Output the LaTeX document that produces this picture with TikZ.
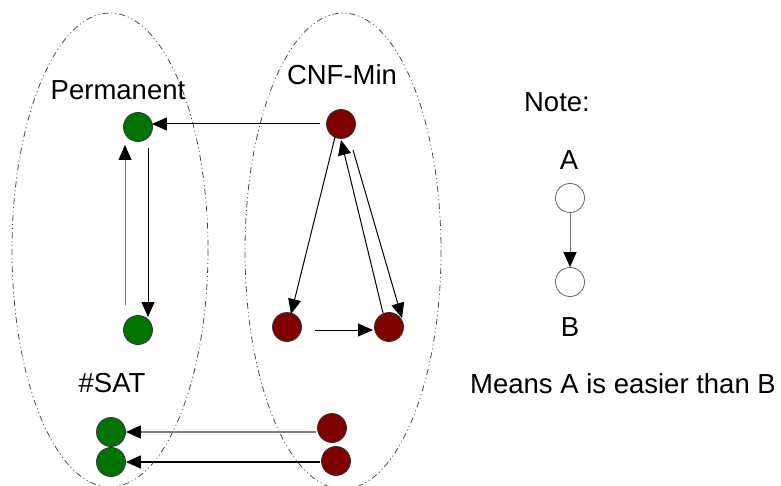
\documentclass[tikz,border=0pt]{standalone}
\usepackage{fontspec}
\setmainfont{Liberation Sans}
\usetikzlibrary{arrows.meta}
\begin{document}
\begin{tikzpicture}[x=1pt,y=-1pt,
  every node/.style={font=\fontsize{27.5}{31}\selectfont},
  grn/.style={circle,draw=black!80,line width=0.8pt,fill=green!45!black,minimum size=29pt,inner sep=0pt},
  rd/.style={circle,draw=black!80,line width=0.8pt,fill=red!50!black,minimum size=29pt,inner sep=0pt},
  wht/.style={circle,draw=black!60,line width=0.8pt,fill=white,minimum size=29pt,inner sep=0pt},
  lbl/.style={inner sep=0pt},
  arr/.style={-{Triangle[length=15pt,width=13pt,color=black]},line width=1pt,black},
  group/.style={draw=black!70,line width=0.8pt,dash pattern=on 6pt off 3pt on 1pt off 3pt on 1pt off 3pt}]
\useasboundingbox (0,0) rectangle (781,486);

% the two problem classes
\draw[group] (110,250) ellipse [x radius=98, y radius=237];
\draw[group] (343,251) ellipse [x radius=98, y radius=238];

% labels
\node[lbl] (tperm) at (118,90) {Permanent};
\node[lbl] (tcnf)  at (342,75) {CNF-Min};
\node[lbl] (tsat)  at (112,383) {\#SAT};

% green nodes
\node[grn] (gt)  at (138,127) {};
\node[grn] (gm)  at (138,330) {};
\node[grn] (gb1) at (111,432) {};
\node[grn] (gb2) at (111,462) {};

% red nodes
\node[rd] (rt)  at (341,124) {};
\node[rd] (rl)  at (287,327) {};
\node[rd] (rr)  at (389,327) {};
\node[rd] (rb1) at (332,428) {};
\node[rd] (rb2) at (336,461) {};

% reductions
\draw[arr] ([xshift=-6pt]rt.west) -- ([xshift=-1pt]rt.west -| gt.east);
\draw[arr,draw=black!55] ([shift={(-13,-25)}]gm.center) -- ([shift={(-13,18)}]gt.center);
\draw[arr] ([shift={(10,21)}]gt.center) -- ([shift={(10,-13)}]gm.center);
\draw[arr] ([shift={(-6,13)}]rt.center) -- ([shift={(4,-13)}]rl.center);
\draw[arr] ([shift={(-6,-14)}]rr.center) -- ([shift={(0,16)}]rt.center);
\draw[arr] ([shift={(12,26)}]rt.center) -- ([shift={(13,-9)}]rr.center);
\draw[arr] ([shift={(28,3)}]rl.center) -- ([shift={(-16,3)}]rr.center);
\draw[arr,draw=black!50,line width=1.8pt] ([xshift=-1pt]rb1.west |- gb1.center) -- ([xshift=0pt]gb1.east);
\draw[arr,line width=1.3pt] ([xshift=-1pt]rb2.west |- gb2.center) -- ([xshift=0pt]gb2.east);

% legend
\node[lbl] (note) at (557,102) {Note:};
\node[lbl] (ta) at (569,160) {A};
\node[wht] (na) at (570,198) {};
\node[wht] (nb) at (570,282) {};
\node[lbl] (tb) at (570,327) {B};
\draw[arr,draw=black!55] (na.south) -- (nb.north);
\node[lbl] (means) at (623,384) {Means A is easier than B};
\end{tikzpicture}
\end{document}
